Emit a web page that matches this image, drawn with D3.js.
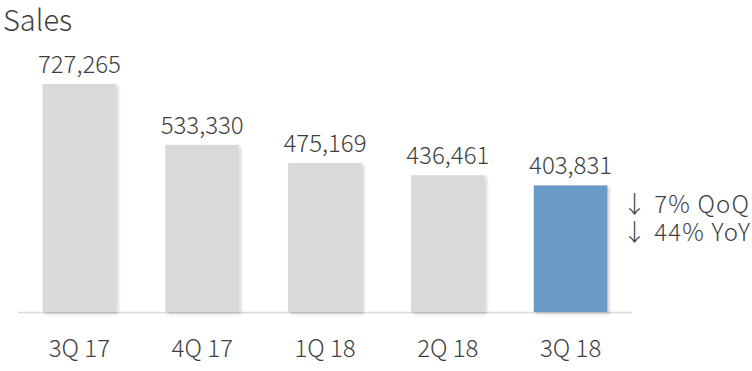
<!DOCTYPE html>
<html><head><meta charset="utf-8">
<script src="https://cdn.jsdelivr.net/npm/d3@7"></script>
<style>body{margin:0;background:#fff;overflow:hidden}</style>
</head><body>
<svg id="c" width="752" height="371"></svg>
<script>
const categories = ["3Q 17","4Q 17","1Q 18","2Q 18","3Q 18"];
const sales = [727265, 533330, 475169, 436461, 403831];
const highlight = ["3Q 18"];
const notes = ["↓ 7% QoQ", "↓ 44% YoY"];
const title = "Sales";

const svg = d3.select("#c");
const font = "'Noto Sans CJK SC','Noto Sans',sans-serif";
const txt = "#3f3f3f";
const baseY = 312;
const x = d3.scaleBand().domain(categories).range([18, 632]).paddingInner(0.4).paddingOuter(0.2);
const y = d3.scaleLinear().domain([0, 727265]).range([baseY, 84]);

const defs = svg.append("defs");
const f = defs.append("filter").attr("id","sh").attr("x","-10%").attr("y","-10%").attr("width","130%").attr("height","130%");
f.append("feDropShadow").attr("dx",2).attr("dy",2).attr("stdDeviation",1.5).attr("flood-color","#000").attr("flood-opacity",0.18);

svg.append("text").attr("x",3).attr("y",31).attr("font-family",font).attr("font-weight",300)
  .attr("font-size",29).attr("fill",txt).text(title);

svg.append("line").attr("x1",18).attr("x2",632).attr("y1",baseY+0.5).attr("y2",baseY+0.5)
  .attr("stroke","#d9d9d9").attr("stroke-width",1.5);

svg.selectAll("rect.bar").data(categories).join("rect").attr("class","bar")
  .attr("x", d=>x(d)).attr("width", x.bandwidth())
  .attr("y", (d,i)=>y(sales[i])).attr("height",(d,i)=>baseY - y(sales[i]))
  .attr("fill", d=>highlight.includes(d) ? "#6b9bc8" : "#d9d9d9")
  .attr("filter","url(#sh)");

svg.selectAll("text.val").data(categories).join("text").attr("class","val")
  .attr("x", d=>x(d)+x.bandwidth()/2).attr("y",(d,i)=>y(sales[i])-11)
  .attr("text-anchor","middle").attr("font-family",font).attr("font-weight",300)
  .attr("font-size",24).attr("fill",txt).text((d,i)=>d3.format(",")(sales[i]));

svg.selectAll("text.cat").data(categories).join("text").attr("class","cat")
  .attr("x", d=>x(d)+x.bandwidth()/2).attr("y",357)
  .attr("text-anchor","middle").attr("font-family",font).attr("font-weight",300)
  .attr("font-size",24).attr("fill",txt).text(d=>d);

const last = categories[categories.length-1];
svg.selectAll("text.note").data(notes).join("text").attr("class","note")
  .attr("x", x(last)+x.bandwidth()+15).attr("y",(d,i)=>213+i*28)
  .attr("font-family",font).attr("font-weight",300).attr("letter-spacing",1.2)
  .attr("font-size",24).attr("fill",txt).attr("xml:space","preserve").text(d=>d);
</script>
</body></html>
